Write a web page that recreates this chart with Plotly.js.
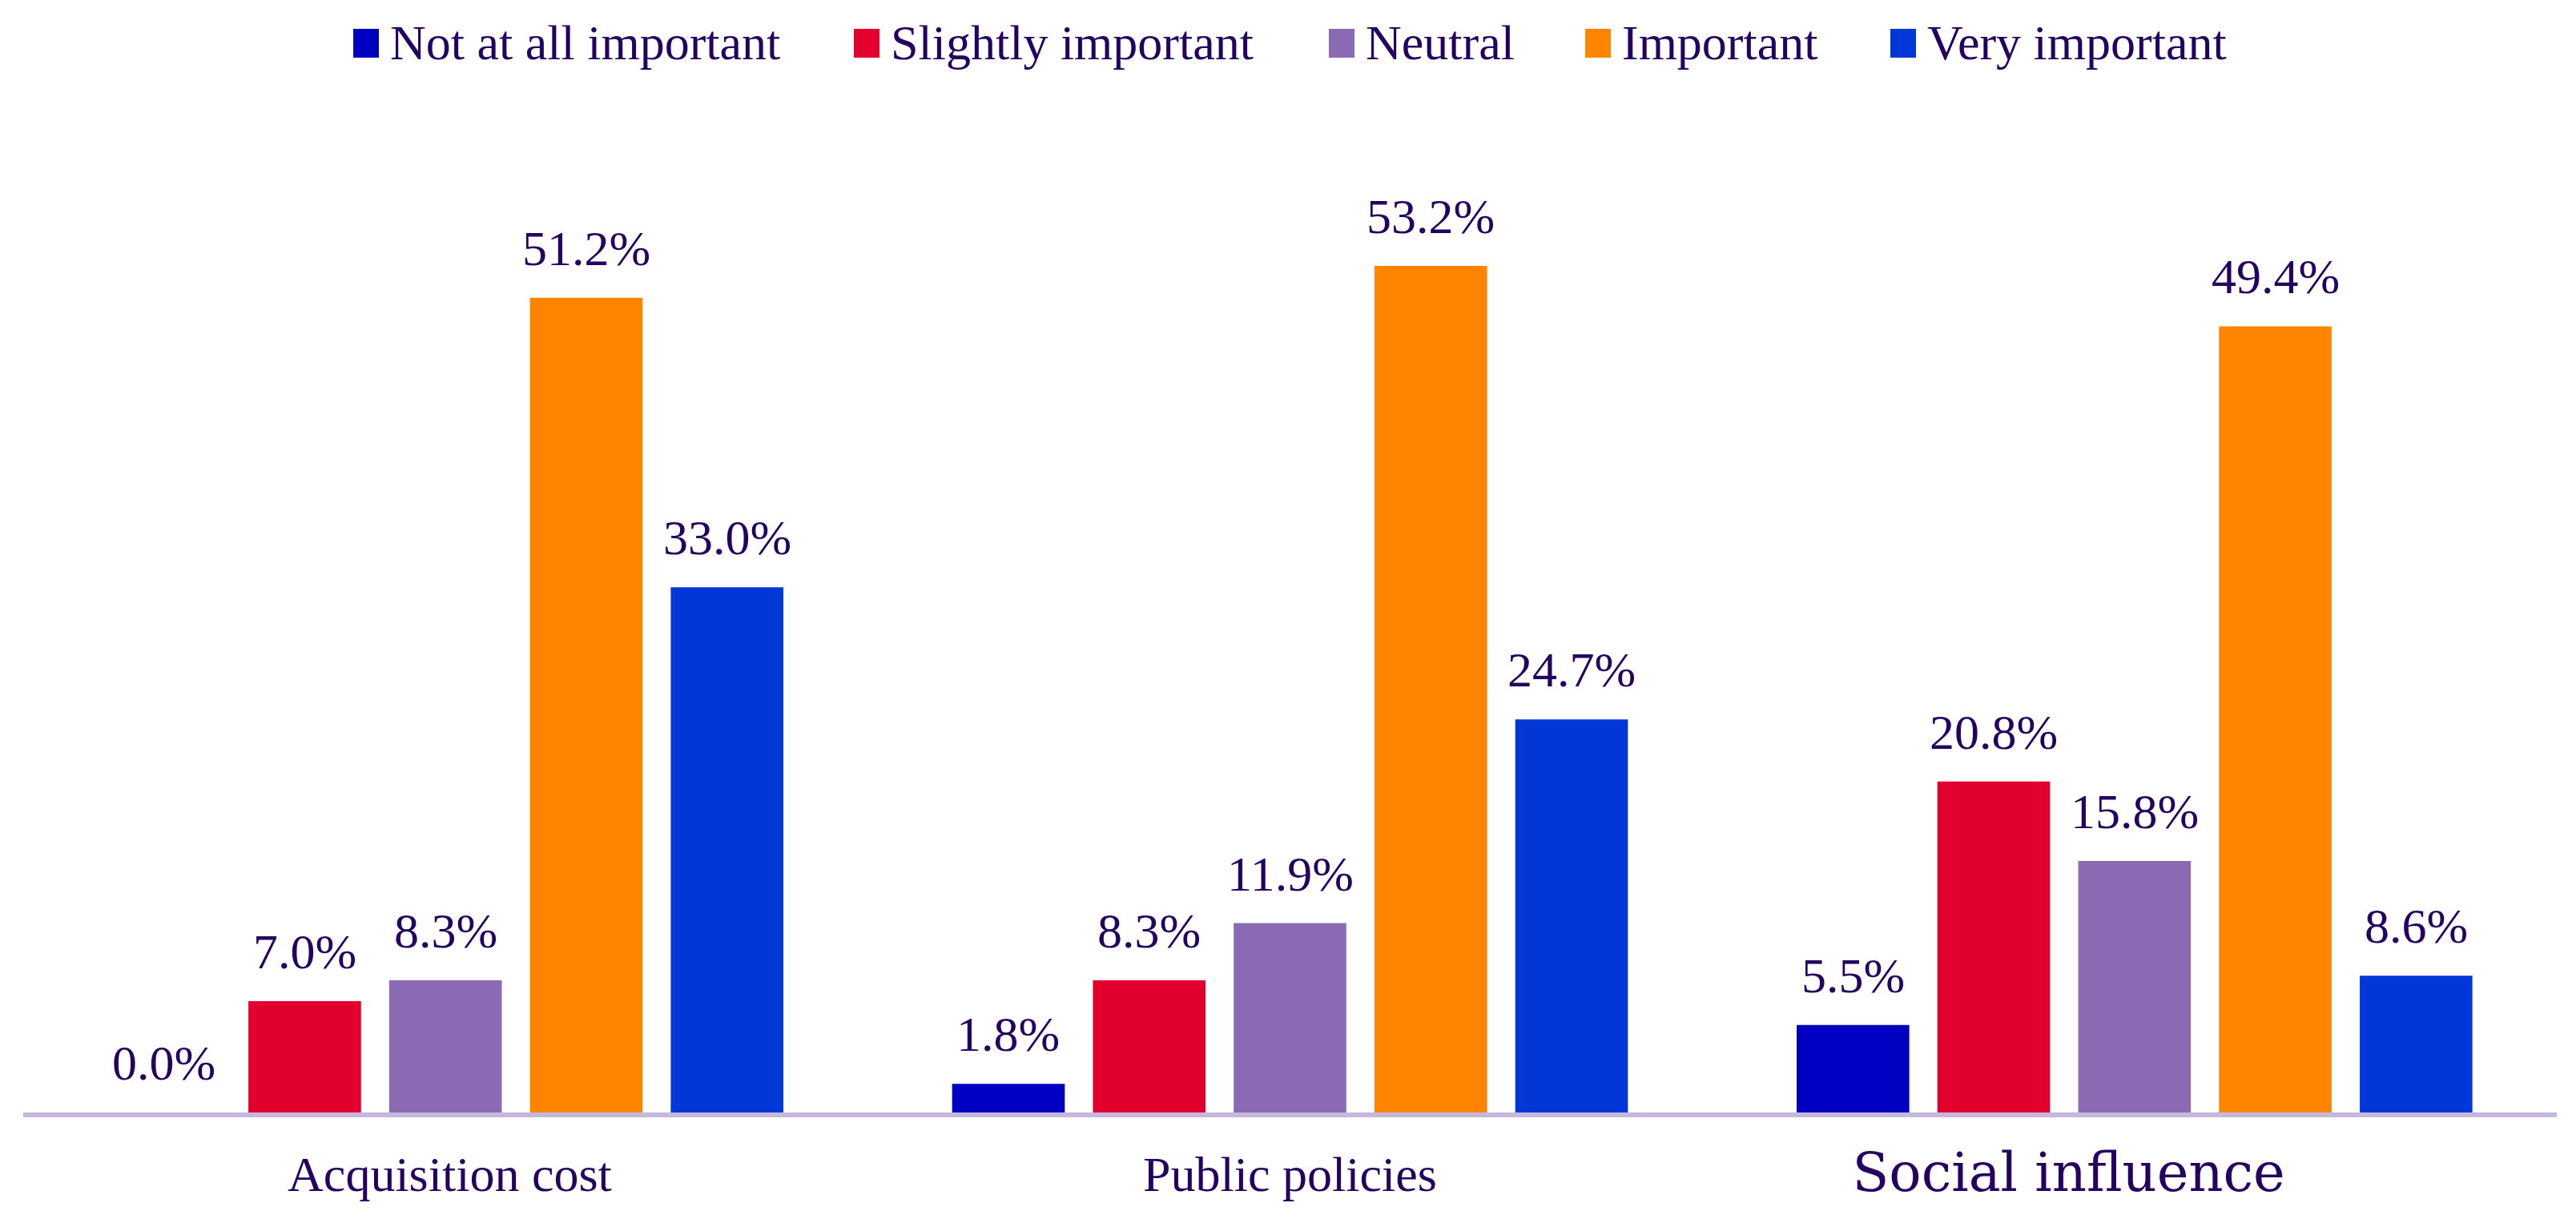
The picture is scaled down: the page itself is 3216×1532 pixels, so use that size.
<!DOCTYPE html>
<html>
<head>
<meta charset="utf-8">
<script src="https://cdn.plot.ly/plotly-3.0.1.min.js"></script>
<style>
  html, body { margin:0; padding:0; background:#ffffff; }
  #chart { width:3216px; height:1532px; }
</style>
</head>
<body>
<div id="chart"></div>
<script>
// data (percent of answers)
const categories = ['Acquisition cost', 'Public policies', 'Social influence'];
const seriesNames = ['Not at all important', 'Slightly important', 'Neutral', 'Important', 'Very important'];
const notAtAll = [0.0, 1.8, 5.5];
const slightly = [7.0, 8.3, 20.8];
const neutral = [8.3, 11.9, 15.8];
const important = [51.2, 53.2, 49.4];
const veryImportant = [33.0, 24.7, 8.6];

const series = [notAtAll, slightly, neutral, important, veryImportant];
const colors = ['#0000c3', '#e2002e', '#8a6bb3', '#ff8400', '#0037d6'];
const ink = '#240060';
const serif = '"Liberation Serif", "Times New Roman", serif';

// plot area in pixels
const W = 3216, H = 1532;
const M = { l: 29, r: 24, t: 180, b: 143 };
const plotW = W - M.l - M.r, plotH = H - M.t - M.b;
const px = x => (x - M.l) / plotW;
const py = y => (H - M.b - y) / plotH;

const bargap = 0.1665;
const slot = (1 - bargap) / series.length;
const xIdx = categories.map((c, i) => i);
// the last category label sits a bit left of its group in the original
const tickShift = [0.005, 0, -0.078];

const traces = series.map((vals, i) => ({
  type: 'bar',
  name: seriesNames[i],
  x: xIdx,
  y: vals,
  marker: { color: colors[i], line: { width: 0 } },
  showlegend: false,
  hoverinfo: 'skip'
}));

// value labels above bars
const annotations = [];
series.forEach((vals, i) => {
  vals.forEach((v, c) => {
    annotations.push({
      x: c + (i - 2) * slot, y: v, xref: 'x', yref: 'y',
      text: v.toFixed(1) + '%', showarrow: false,
      xanchor: 'center', yanchor: 'bottom', yshift: 26,
      font: { family: serif, size: 62, color: ink }
    });
  });
});

// legend drawn across the top
const legendLeft = [441, 1066, 1659, 1979, 2360];
const shapes = [];
seriesNames.forEach((name, i) => {
  shapes.push({
    type: 'rect', xref: 'paper', yref: 'paper',
    x0: px(legendLeft[i]), x1: px(legendLeft[i] + 32),
    y0: py(72), y1: py(36),
    fillcolor: colors[i], line: { width: 0 }
  });
  annotations.push({
    x: px(legendLeft[i] + 44), y: py(53), xref: 'paper', yref: 'paper',
    text: name, showarrow: false, xanchor: 'left', yanchor: 'middle',
    font: { family: serif, size: 62, color: ink }
  });
});

const tickText = categories.map((c, i) => i === 2
  ? '<span style="font-family:\'DejaVu Serif\';font-size:67px">' + c + '</span>'
  : c);

const layout = {
  width: W, height: H,
  margin: M,
  paper_bgcolor: '#ffffff', plot_bgcolor: '#ffffff',
  barmode: 'group', bargap: bargap, bargroupgap: 0.2,
  showlegend: false,
  xaxis: {
    range: [-0.5, 2.5], tickvals: xIdx.map((v, i) => v + tickShift[i]), ticktext: tickText,
    showgrid: false, zeroline: false, ticks: '',
    showline: true, linecolor: '#c4b8df', linewidth: 6,
    ticklabelstandoff: 18,
    tickfont: { family: serif, size: 62, color: ink }
  },
  yaxis: {
    range: [0, 60.85], visible: false, showgrid: false, zeroline: false
  },
  shapes: shapes,
  annotations: annotations
};

Plotly.newPlot('chart', traces, layout, { displayModeBar: false, staticPlot: true });
</script>
</body>
</html>
